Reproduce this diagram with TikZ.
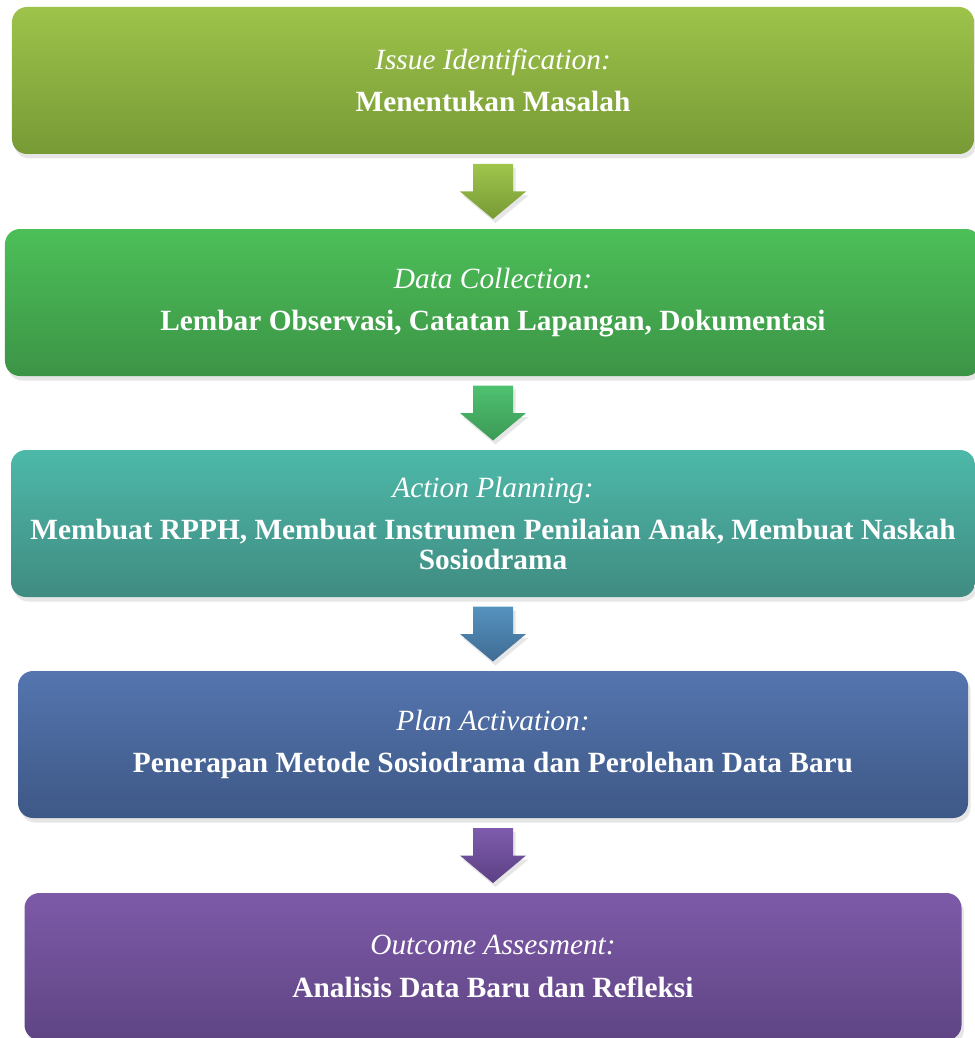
\documentclass[tikz,border=0pt]{standalone}
\usepackage{fontspec}
\setmainfont{Liberation Serif}
\usetikzlibrary{calc, shadows}

% box and arrow shades
\definecolor{s0top}{HTML}{9DC34A} \definecolor{s0bot}{HTML}{789A36}
\definecolor{s1top}{HTML}{4CBF58} \definecolor{s1bot}{HTML}{3C9446}
\definecolor{s2top}{HTML}{4DB9A9} \definecolor{s2bot}{HTML}{408B81}
\definecolor{s3top}{HTML}{5475AF} \definecolor{s3bot}{HTML}{3E5886}
\definecolor{s4top}{HTML}{7D5AA8} \definecolor{s4bot}{HTML}{5F4584}
\definecolor{a0top}{HTML}{9FC54D} \definecolor{a0bot}{HTML}{779A35}
\definecolor{a1top}{HTML}{4EC070} \definecolor{a1bot}{HTML}{3C9A55}
\definecolor{a2top}{HTML}{5592BE} \definecolor{a2bot}{HTML}{3F6C94}
\definecolor{a3top}{HTML}{7E5CAD} \definecolor{a3bot}{HTML}{5C4084}

\begin{document}
\begin{tikzpicture}[auto, >=latex, node distance = 1 cm]
			\tikzstyle{stage} = [rectangle, rounded corners=0.3cm, minimum height=2.94cm, text=white, align=center, font=\fontsize{16.7}{17.2}\selectfont, drop shadow={opacity=0.2, shadow xshift=0.05cm, shadow yshift=-0.09cm}]
			\tikzstyle{shadow} = [drop shadow={opacity=0.2, shadow xshift=0.05cm, shadow yshift=-0.08cm}]
			
			\useasboundingbox (0,0) rectangle (19.48,-20.76);
			
			\node[stage, minimum width=19.24cm, top color=s0top, bottom color=s0bot] at (9.86, -1.61) (s0)
				{\textit{Issue Identification:}\\[7pt] \textbf{Menentukan Masalah}};
			\node[stage, minimum width=19.52cm, top color=s1top, bottom color=s1bot] at (9.86, -6.05) (s1)
				{\textit{Data Collection:}\\[7pt] \textbf{Lembar Observasi, Catatan Lapangan, Dokumentasi}};
			\node[stage, minimum width=19.28cm, top color=s2top, bottom color=s2bot] at (9.86, -10.47) (s2)
				{\textit{Action Planning:}\\[7pt] \textbf{Membuat RPPH, Membuat Instrumen Penilaian Anak, Membuat Naskah}\\ \textbf{Sosiodrama}};
			\node[stage, minimum width=19.0cm, top color=s3top, bottom color=s3bot] at (9.86, -14.89) (s3)
				{\textit{Plan Activation:}\\[7pt] \textbf{Penerapan Metode Sosiodrama dan Perolehan Data Baru}};
			\node[stage, minimum width=18.74cm, top color=s4top, bottom color=s4bot] at (9.86, -19.33) (s4)
				{\textit{Outcome Assesment:}\\[7pt] \textbf{Analisis Data Baru dan Refleksi}};
			
			% block arrows halfway between the boxes
			\foreach \i/\j/\c in {s0/s1/a0, s1/s2/a1, s2/s3/a2, s3/s4/a3} {
				\coordinate (m) at ($(\i.south)!0.5!(\j.north)$);
				\shade[shadow, top color=\c top, bottom color=\c bot]
				($(m)+(-0.4,0.55)$) -- ++(0.8,0) -- ++(0,-0.55) -- ++(0.26,0) -- ++(-0.66,-0.55) -- ++(-0.66,0.55) -- ++(0.26,0) -- cycle;
			}
			\end{tikzpicture}
\end{document}
